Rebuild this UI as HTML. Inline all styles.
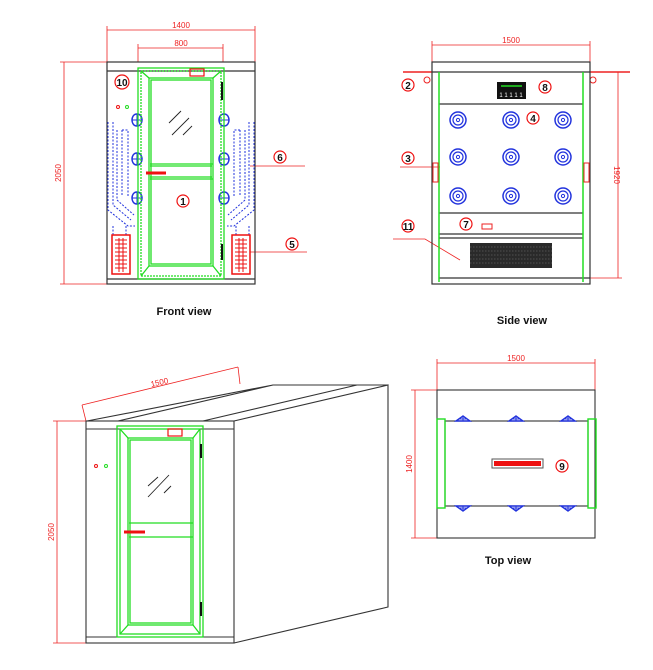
<!DOCTYPE html>
<html><head><meta charset="utf-8"><style>
html,body{margin:0;padding:0;background:#fff;}
svg{display:block;}
text{font-family:"Liberation Sans",sans-serif;}
</style></head><body>
<svg width="653" height="670" viewBox="0 0 653 670" xmlns="http://www.w3.org/2000/svg">
<defs>
<g id="noz"><circle r="8" fill="none" stroke="#2233dd" stroke-width="1.5"/><circle r="5" fill="none" stroke="#2233dd" stroke-width="1.2"/><circle r="1.6" fill="none" stroke="#2233dd"/></g>
<g id="fan"><rect x="0" y="0" width="18" height="39" fill="#fff" stroke="#ee1111" stroke-width="1.5"/>
<path d="M3 5H15M3 9H15M3 13H15M3 17H15M3 21H15M3 25H15M3 29H15M3 33H15M7 3V37M11 3V37" stroke="#ee1111" stroke-width="1"/></g>
<g id="bnz"><path d="M0 -6 C4 -6 5 -2 5 0 C5 2 4 6 0 6 C-4 6 -5 2 -5 0 C-5 -2 -4 -6 0 -6Z" fill="none" stroke="#2233dd" stroke-width="1.5"/><path d="M-5 0H5M0 -6V6" stroke="#2233dd"/></g>
<g id="tri"><path d="M-7 0 L0 -5 L7 0Z" fill="none" stroke="#2233dd" stroke-width="1.4"/><path d="M-4 -2H4M0 -5V0" stroke="#2233dd"/></g>
</defs>
<g fill="none" stroke-linecap="butt">
<!-- FRONT VIEW -->
<g stroke="#ee2222" stroke-width="0.8">
<path d="M107 30H255M107 26V62M255 26V62"/>
<path d="M138 48H223M138 44V62M223 44V62"/>
<path d="M64 62V284M60 62H107M60 284H107"/>
<path d="M250 166H305M250 252H307"/>
</g>
<text x="181" y="28" font-size="8" fill="#ee2222" text-anchor="middle">1400</text>
<text x="181" y="46" font-size="8" fill="#ee2222" text-anchor="middle">800</text>
<text x="61" y="173" font-size="8" fill="#ee2222" text-anchor="middle" transform="rotate(-90 61 173)">2050</text>
<g stroke="#333" stroke-width="1.2"><rect x="107" y="62" width="148" height="222"/><path d="M107 71H255M107 279H255"/></g>
<g stroke="#2233dd" stroke-width="1" stroke-dasharray="2 1.5">
<path d="M108 122V210L128 226H135M113 122V205L131 220"/><path d="M117 130V200L134 215M122 130V196M122 130H128V196"/>
<path d="M254 122V210L234 226H227M249 122V205L231 220"/><path d="M245 130V200L228 215M240 130V196M240 130H234V196"/>
<path d="M113 226V236M126 226V236M236 226V236M249 226V236"/>
</g>
<use href="#fan" x="112" y="235"/><use href="#fan" x="232" y="235"/>
<use href="#bnz" x="137" y="120"/><use href="#bnz" x="137" y="159"/><use href="#bnz" x="137" y="198"/>
<use href="#bnz" x="224" y="120"/><use href="#bnz" x="224" y="159"/><use href="#bnz" x="224" y="198"/>
<g stroke="#22dd22" stroke-width="1.3">
<rect x="138" y="68" width="86" height="211"/><rect x="141" y="71" width="80" height="205" stroke-dasharray="2 1"/>
<rect x="149" y="78" width="64" height="188"/><rect x="151" y="80" width="60" height="184"/>
<path d="M141 71L149 78M221 71L213 78M141 276L149 266M221 276L213 266"/>
<path d="M150 164H213M150 179H213M150 166H212M150 177H212"/>
</g>
<path d="M222 82V100M222 244V260" stroke="#111" stroke-width="2"/>
<path d="M146 173H166" stroke="#ee1111" stroke-width="3"/>
<rect x="190" y="69" width="14" height="7" stroke="#ee1111" stroke-width="1.2"/>
<path d="M169 123L181 111M172 135L189 118M183 135L192 126" stroke="#222" stroke-width="0.9"/>
<circle cx="118" cy="107" r="1.5" stroke="#ee1111"/><circle cx="127" cy="107" r="1.5" stroke="#22dd22"/>
<g stroke="#ee1111" stroke-width="1.2"><circle cx="122" cy="82" r="7"/><circle cx="280" cy="157" r="6"/><circle cx="292" cy="244" r="6"/><circle cx="183" cy="201" r="6"/></g>
<text x="122" y="86" font-size="10" font-weight="bold" fill="#111" text-anchor="middle">10</text>
<text x="280" y="161" font-size="10" font-weight="bold" fill="#111" text-anchor="middle">6</text>
<text x="292" y="248" font-size="10" font-weight="bold" fill="#111" text-anchor="middle">5</text>
<text x="183" y="205" font-size="10" font-weight="bold" fill="#111" text-anchor="middle">1</text>
<text x="184" y="315" font-size="11" font-weight="bold" fill="#111" text-anchor="middle">Front view</text>

<!-- SIDE VIEW -->
<g stroke="#ee2222" stroke-width="0.8">
<path d="M432 45H590M432 41V62M590 41V62"/>
<path d="M618 72V278M590 72H622M590 278H622"/>
<path d="M400 167H440M393 239H425L460 260"/>
</g>
<path d="M403 72H432M590 72H630" stroke="#ee2222" stroke-width="1.5"/>
<circle cx="427" cy="80" r="3" stroke="#ee2222"/><circle cx="593" cy="80" r="3" stroke="#ee2222"/>
<text x="511" y="43" font-size="8" fill="#ee2222" text-anchor="middle">1500</text>
<text x="614" y="175" font-size="8" fill="#ee2222" text-anchor="middle" transform="rotate(90 614 175)">1920</text>
<g stroke="#333" stroke-width="1.2"><rect x="432" y="62" width="158" height="222"/>
<path d="M432 72H590M439 104H583M439 213H583M439 234H583M439 238H583M439 278H590"/></g>
<path d="M439 72V282M583 72V282" stroke="#22dd22" stroke-width="1.5"/>
<rect x="497" y="82" width="29" height="17" fill="#111"/>
<path d="M501 86H522" stroke="#22dd22" stroke-width="1.5"/>
<text x="511" y="97" font-size="6" fill="#fff" text-anchor="middle">1 1 1 1 1</text>
<rect x="433" y="163" width="5" height="19" stroke="#ee2222"/><rect x="584" y="163" width="5" height="19" stroke="#ee2222"/>
<use href="#noz" x="458" y="120"/><use href="#noz" x="511" y="120"/><use href="#noz" x="563" y="120"/>
<use href="#noz" x="458" y="157"/><use href="#noz" x="511" y="157"/><use href="#noz" x="563" y="157"/>
<use href="#noz" x="458" y="196"/><use href="#noz" x="511" y="196"/><use href="#noz" x="563" y="196"/>
<rect x="470" y="243" width="82" height="25" fill="#2a2a2a"/>
<path d="M470 247H552M470 251H552M470 255H552M470 259H552M470 263H552" stroke="#777" stroke-width="0.6" stroke-dasharray="1.5 1.5"/>
<rect x="482" y="224" width="10" height="5" stroke="#ee2222"/>
<g stroke="#ee1111" stroke-width="1.2"><circle cx="408" cy="85" r="6"/><circle cx="408" cy="158" r="6"/><circle cx="408" cy="226" r="6"/><circle cx="545" cy="87" r="6"/><circle cx="533" cy="118" r="6"/><circle cx="466" cy="224" r="6"/></g>
<g font-size="10" font-weight="bold" fill="#111" text-anchor="middle">
<text x="408" y="89">2</text><text x="408" y="162">3</text><text x="408" y="230">11</text><text x="545" y="91">8</text><text x="533" y="122">4</text><text x="466" y="228">7</text></g>
<text x="522" y="324" font-size="11" font-weight="bold" fill="#111" text-anchor="middle">Side view</text>

<!-- ISO VIEW -->
<g stroke="#ee2222" stroke-width="0.8">
<path d="M82 405L238 367M82 405L86 421M238 367L240 384"/>
<path d="M57 421V643M53 421H86M53 643H86"/>
</g>
<text x="160" y="385" font-size="8" fill="#ee2222" text-anchor="middle" transform="rotate(-13 160 385)">1500</text>
<text x="54" y="532" font-size="8" fill="#ee2222" text-anchor="middle" transform="rotate(-90 54 532)">2050</text>
<g stroke="#333" stroke-width="1.1">
<rect x="86" y="421" width="148" height="222"/><path d="M86 429H234M86 637H234"/>
<path d="M234 421L388 385V607L234 643M87 421L273 385M118 421L273 385M203 421L357 385M234 421L388 385M273 385H388"/>
</g>
<g stroke="#22dd22" stroke-width="1.3">
<rect x="117" y="426" width="86" height="211"/><rect x="120" y="429" width="80" height="205"/>
<rect x="128" y="438" width="65" height="187"/><rect x="130" y="440" width="61" height="183"/>
<path d="M120 429L128 438M200 429L193 438M120 634L128 625M200 634L193 625M129 523H193M129 537H193"/>
</g>
<path d="M201 444V458M201 602V616" stroke="#111" stroke-width="2"/>
<path d="M124 532H145" stroke="#ee1111" stroke-width="3"/>
<rect x="168" y="429" width="14" height="7" stroke="#ee1111" stroke-width="1.2"/>
<path d="M148 486L158 477M148 497L169 475M164 493L171 486" stroke="#222" stroke-width="0.9"/>
<circle cx="96" cy="466" r="1.5" stroke="#ee1111"/><circle cx="106" cy="466" r="1.5" stroke="#22dd22"/>

<!-- TOP VIEW -->
<g stroke="#ee2222" stroke-width="0.8">
<path d="M437 363H595M437 359V390M595 359V390"/>
<path d="M415 390V538M411 390H437M411 538H437"/>
</g>
<text x="516" y="361" font-size="8" fill="#ee2222" text-anchor="middle">1500</text>
<text x="412" y="464" font-size="8" fill="#ee2222" text-anchor="middle" transform="rotate(-90 412 464)">1400</text>
<g stroke="#333" stroke-width="1.1"><rect x="437" y="390" width="158" height="148"/><rect x="445" y="421" width="143" height="85"/></g>
<g stroke="#22dd22" stroke-width="1.4"><rect x="437" y="419" width="8" height="89"/><rect x="588" y="419" width="8" height="89"/></g>
<use href="#tri" x="463" y="421"/><use href="#tri" x="516" y="421"/><use href="#tri" x="568" y="421"/>
<use href="#tri" x="463" y="506" transform="translate(0 1012) scale(1 -1)"/>
<g transform="translate(0 1012) scale(1 -1)"><use href="#tri" x="516" y="506"/><use href="#tri" x="568" y="506"/></g>
<rect x="492" y="459" width="51" height="9" stroke="#555"/>
<rect x="494" y="461" width="47" height="5" fill="#ee1111"/>
<circle cx="562" cy="466" r="6" stroke="#ee1111" stroke-width="1.2"/>
<text x="562" y="470" font-size="10" font-weight="bold" fill="#111" text-anchor="middle">9</text>
<text x="508" y="564" font-size="11" font-weight="bold" fill="#111" text-anchor="middle">Top view</text>
</g>
</svg>
</body></html>
